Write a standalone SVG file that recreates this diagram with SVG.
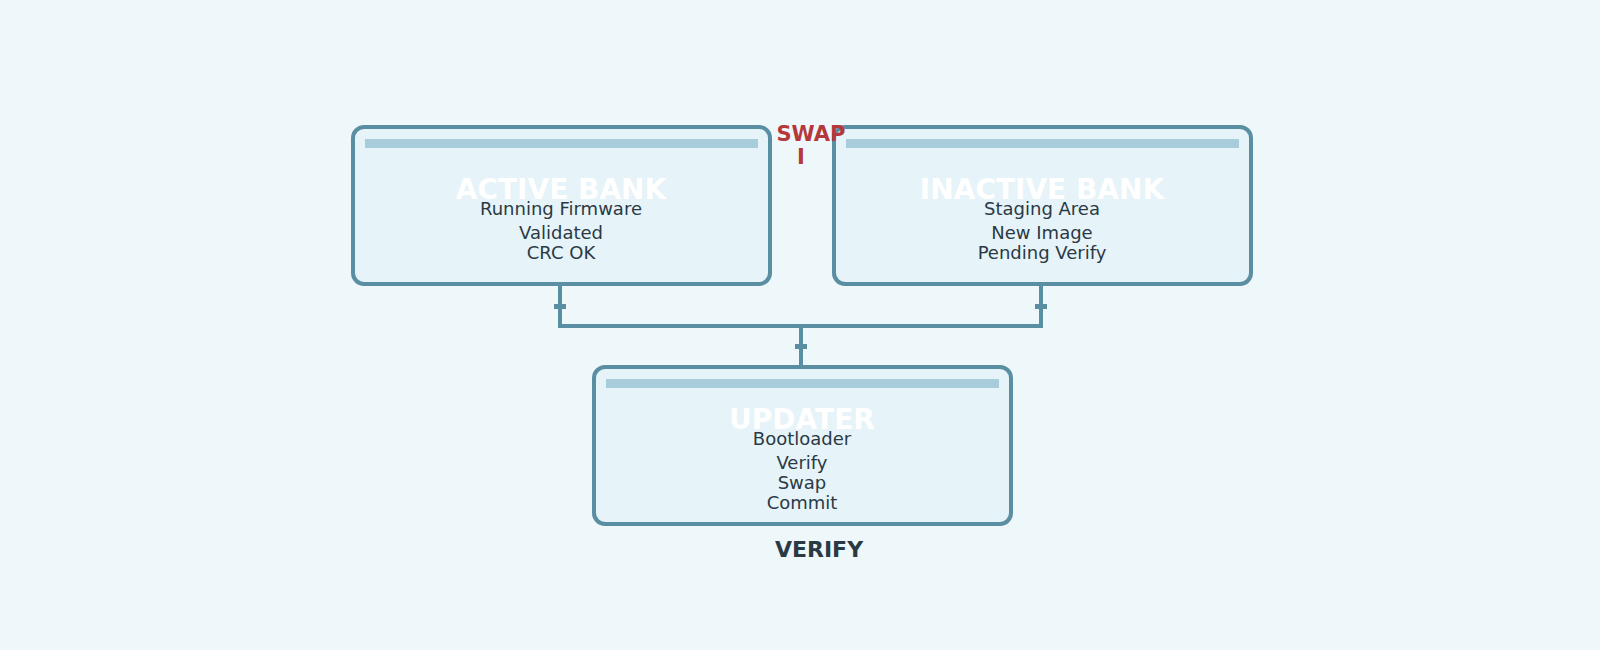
<svg xmlns="http://www.w3.org/2000/svg" width="1600" height="650" viewBox="0 0 1600 650">
<style>
.box{fill:#e6f3f8;stroke:#5a8fa3;stroke-width:4}
.bar{fill:#a8ccdc}
.t{font-family:"DejaVu Sans",sans-serif;font-weight:bold;font-size:28px;fill:#ffffff;text-anchor:middle}
.s{font-family:"DejaVu Sans",sans-serif;font-size:18px;fill:#2a3a45;text-anchor:middle}
.c{fill:none;stroke:#5a8fa3;stroke-width:4}
.k{fill:#5a8fa3}
.lbl{font-family:"DejaVu Sans",sans-serif;font-weight:bold;font-size:21px;text-anchor:middle}
</style>
<rect width="1600" height="650" fill="#eef7fa"/>
<g id="connectors">
<path class="c" d="M560 284V326H1041V284M801 326V367"/>
<rect class="k" x="554" y="304" width="12" height="5"/>
<rect class="k" x="1035" y="304" width="12" height="5"/>
<rect class="k" x="795" y="344" width="12" height="5"/>
</g>
<g id="active">
<rect class="box" x="353" y="127" width="417" height="157" rx="11"/>
<rect class="bar" x="365" y="139" width="393" height="9"/>
<text class="t" x="561" y="199">ACTIVE BANK</text>
<text class="s" x="561" y="215">Running Firmware</text>
<text class="s" x="561" y="239">Validated</text>
<text class="s" x="561" y="259">CRC OK</text>
</g>
<g id="inactive">
<rect class="box" x="834" y="127" width="417" height="157" rx="11"/>
<rect class="bar" x="846" y="139" width="393" height="9"/>
<text class="t" x="1042" y="199">INACTIVE BANK</text>
<text class="s" x="1042" y="215">Staging Area</text>
<text class="s" x="1042" y="239">New Image</text>
<text class="s" x="1042" y="259">Pending Verify</text>
</g>
<g id="updater">
<rect class="box" x="594" y="367" width="417" height="157" rx="11"/>
<rect class="bar" x="606" y="379" width="393" height="9"/>
<text class="t" x="802" y="429">UPDATER</text>
<text class="s" x="802" y="445">Bootloader</text>
<text class="s" x="802" y="469">Verify</text>
<text class="s" x="802" y="489">Swap</text>
<text class="s" x="802" y="509">Commit</text>
</g>
<text class="lbl" x="811" y="141" fill="#b5383c">SWAP</text>
<text class="lbl" x="801" y="164" fill="#b5383c">I</text>
<text class="lbl" x="819" y="557" fill="#2a3a45" style="font-size:22px">VERIFY</text>
</svg>
